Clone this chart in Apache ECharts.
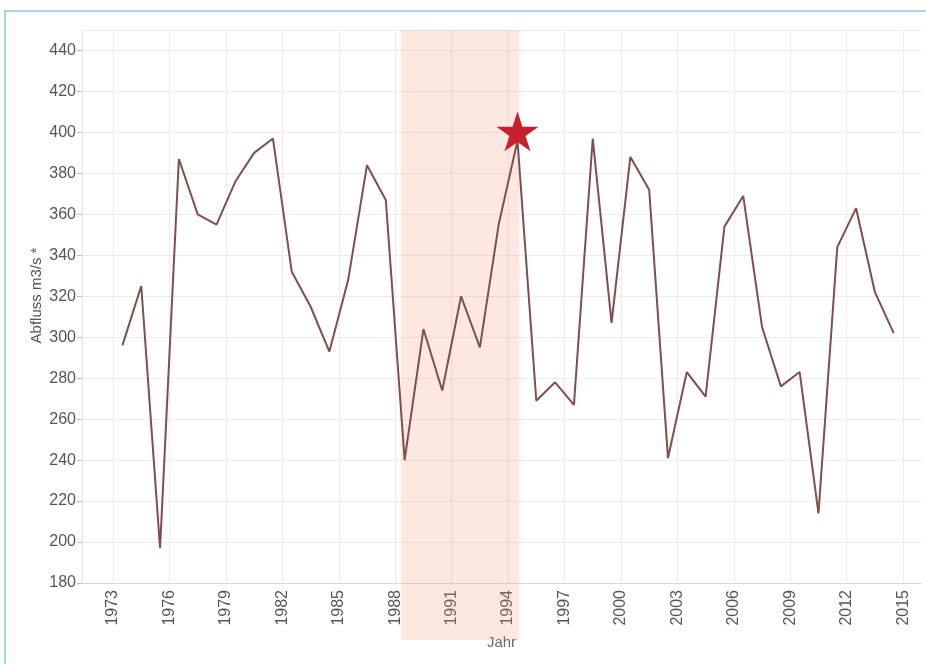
<!DOCTYPE html>
<html>
<head>
<meta charset="utf-8">
<script src="https://cdn.jsdelivr.net/npm/echarts@6/dist/echarts.min.js"></script>
<style>
  html, body { margin: 0; padding: 0; background: #fff; }
  #frame { position: absolute; left: 4px; top: 10px; width: 930px; height: 660px;
           border-top: 2px solid #a3d6ec; border-left: 2px solid #a3d6ec; }
  #main { position: absolute; left: 0; top: 0; width: 926px; height: 664px; }
</style>
</head>
<body>
<div id="frame"></div>
<div id="main"></div>
<script>
// Abflussjahre (Punkte liegen jeweils in der Jahresmitte)
var years = [1973.5, 1974.5, 1975.5, 1976.5, 1977.5, 1978.5, 1979.5, 1980.5, 1981.5, 1982.5,
             1983.5, 1984.5, 1985.5, 1986.5, 1987.5, 1988.5, 1989.5, 1990.5, 1991.5, 1992.5,
             1993.5, 1994.5, 1995.5, 1996.5, 1997.5, 1998.5, 1999.5, 2000.5, 2001.5, 2002.5,
             2003.5, 2004.5, 2005.5, 2006.5, 2007.5, 2008.5, 2009.5, 2010.5, 2011.5, 2012.5,
             2013.5, 2014.5];
var abfluss = [296, 325, 197, 387, 360, 355, 376, 390, 397, 332,
               315, 293, 328, 384, 367, 240, 304, 274, 320, 295,
               355, 396, 269, 278, 267, 397, 307, 388, 372, 241,
               283, 271, 354, 369, 305, 276, 283, 214, 344, 363,
               322, 302];
var yearTicks = [1973, 1976, 1979, 1982, 1985, 1988, 1991, 1994, 1997, 2000, 2003, 2006, 2009, 2012, 2015];
var band = [1988.3, 1994.6];
var starPoint = [1994.5, 400.5];

var xMin = 1971.35, xMax = 2015.95;
var labelColor = '#555';
var gridColor = '#ececec';
var starPath = 'path://M50,0 L61.2,34.5 L97.6,34.5 L68.2,55.9 L79.4,90.5 L50,69.1 L20.6,90.5 L31.8,55.9 L2.4,34.5 L38.8,34.5 Z';

var chart = echarts.init(document.getElementById('main'), null, { renderer: 'canvas' });

var option = {
  animation: false,
  textStyle: { fontFamily: 'Arial, "Liberation Sans", sans-serif' },
  grid: [
    { left: 82, right: 5, top: 30, bottom: 81 },
    { left: 82, right: 5, top: 30, bottom: 24 }
  ],
  xAxis: [
    {
      type: 'value', gridIndex: 0, min: xMin, max: xMax,
      name: 'Jahr', nameLocation: 'middle', nameGap: 52, nameMoveOverlap: false,
      nameTextStyle: { color: '#666', fontSize: 15 },
      axisLine: { show: true, lineStyle: { color: '#d9d9d9', width: 1 } },
      axisTick: { show: false, customValues: yearTicks },
      axisLabel: {
        customValues: yearTicks, rotate: 90, margin: 7, color: labelColor, fontSize: 16,
        formatter: function (v) { return String(Math.round(v)); }
      },
      splitLine: { show: true, lineStyle: { color: gridColor, width: 1 } }
    },
    { type: 'value', gridIndex: 1, min: xMin, max: xMax, show: false }
  ],
  yAxis: [
    {
      type: 'value', gridIndex: 0, min: 180, max: 450, interval: 20,
      name: 'Abfluss m3/s *', nameLocation: 'middle', nameGap: 38, nameMoveOverlap: false,
      nameTextStyle: { color: '#555', fontSize: 15, padding: [0, 0, 0, 22] },
      axisLine: { show: true, lineStyle: { color: '#e2e2e2' } },
      axisTick: { show: true, length: 5, lineStyle: { color: '#bbb' } },
      axisLabel: { color: labelColor, fontSize: 16, margin: 6, showMaxLabel: false },
      splitLine: { show: true, lineStyle: { color: gridColor, width: 1 } }
    },
    { type: 'value', gridIndex: 1, min: 0, max: 1, show: false }
  ],
  series: [
    {
      type: 'line', xAxisIndex: 1, yAxisIndex: 1, data: [], z: 1, silent: true,
      markArea: {
        silent: true,
        itemStyle: { color: 'rgba(245,150,120,0.22)' },
        data: [[{ xAxis: band[0] }, { xAxis: band[1] }]]
      }
    },
    {
      type: 'line', xAxisIndex: 0, yAxisIndex: 0, z: 3,
      data: years.map(function (y, i) { return [y, abfluss[i]]; }),
      showSymbol: false, symbol: 'none',
      lineStyle: { color: '#7e4f4d', width: 2 }
    },
    {
      type: 'scatter', xAxisIndex: 0, yAxisIndex: 0, z: 4, clip: false,
      data: [starPoint],
      symbol: starPath, symbolSize: 42, symbolKeepAspect: true,
      itemStyle: { color: '#c8202b', opacity: 1 }
    }
  ]
};

chart.setOption(option);
</script>
</body>
</html>
